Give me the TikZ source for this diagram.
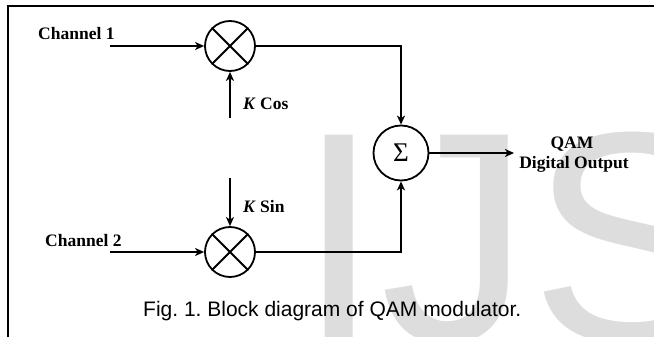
\documentclass[tikz,border=0pt]{standalone}
\usepackage{fontspec}
\setmainfont{Liberation Serif}
\newfontfamily\arialfont{Liberation Sans}
\usetikzlibrary{arrows.meta}
\definecolor{wmgray}{RGB}{221,221,221}
\frenchspacing
\tikzset{
  lbl/.style={inner sep=0pt, anchor=base west, font=\bfseries\fontsize{17.5}{20}\selectfont},
  lblc/.style={inner sep=0pt, anchor=base, font=\bfseries\fontsize{17.5}{20}\selectfont},
  opcircle/.style={circle, draw, line width=1.8pt, minimum size=50pt, inner sep=0pt},
  wire/.style={line width=2pt},
  arr/.style={wire, -{Stealth[length=9pt,width=8pt,inset=2.5pt]}},
}
\begin{document}
\begin{tikzpicture}[x=1pt,y=-1pt]
\useasboundingbox (0,0) rectangle (654,337);
% watermark
\node[inner sep=0pt, anchor=base west, text=wmgray, font=\arialfont\fontsize{300}{300}\selectfont] (wm) at (297,341) {IJS};
% frame
\draw[line width=1.8pt] (8,337) -- (8,6) -- (654,6);
% operators
\node[opcircle] (m1) at (230,46) {};
\node[opcircle] (m2) at (230,252) {};
\node[opcircle, minimum size=55pt, font=\fontsize{27}{30}\selectfont] (sum) at (401,153) {Σ};
\draw[line width=1.8pt] (m1.north west) -- (m1.south east) (m1.north east) -- (m1.south west);
\draw[line width=1.8pt] (m2.north west) -- (m2.south east) (m2.north east) -- (m2.south west);
% labels
\node[lbl] (ch1) at (38,40) {Channel 1};
\node[lbl] (ch2) at (45,246) {Channel 2};
\node[lbl] (kcos) at (243,110) {\textit{K} Cos};
\node[lbl] (ksin) at (243,212) {\textit{K} Sin};
\node[lblc] (qam) at (572,149) {QAM};
\node[lblc] (dout) at (574,168) {Digital Output};
% free ends
\coordinate (c1) at (110,46);
\coordinate (c2) at (110,252);
\coordinate (kc) at (230,118);
\coordinate (ks) at (230,178);
\coordinate (out) at (514,153);
% connectors
\draw[arr] (c1) -- (m1.west);
\draw[arr] (c2) -- (m2.west);
\draw[arr] (kc) -- (m1.south);
\draw[arr] (ks) -- (m2.north);
\draw[arr] (m1.east) -| (sum.north);
\draw[arr] (m2.east) -| (sum.south);
\draw[arr] (sum.east) -- (out);
% caption
\node[inner sep=0pt, anchor=base west, font=\arialfont\fontsize{21}{24}\selectfont] (cap) at (143,316) {Fig. 1. Block diagram of QAM modulator.};
\end{tikzpicture}
\end{document}
